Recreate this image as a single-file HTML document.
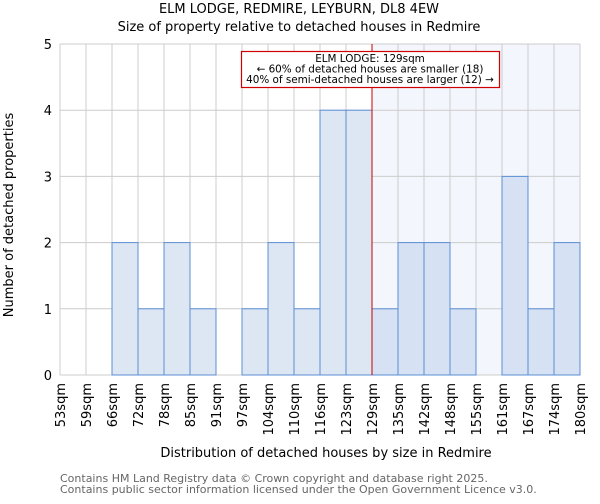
<!DOCTYPE html>
<html><head><meta charset="utf-8"><style>
body{margin:0;background:#fff;font-family:"DejaVu Sans","Liberation Sans",sans-serif}
svg text{font-family:"DejaVu Sans","Liberation Sans",sans-serif}
</style></head><body>
<svg id="chart" width="600" height="500" xmlns="http://www.w3.org/2000/svg">
<text x="299" y="13" text-anchor="middle" font-size="13">ELM LODGE, REDMIRE, LEYBURN, DL8 4EW</text>
<text x="299" y="31" text-anchor="middle" font-size="13">Size of property relative to detached houses in Redmire</text>
<g id="plot"></g>
<text x="326" y="457" text-anchor="middle" font-size="13">Distribution of detached houses by size in Redmire</text>
<text transform="translate(13,215) rotate(-90)" text-anchor="middle" font-size="13">Number of detached properties</text>
<text x="60" y="482" font-size="11" fill="#666">Contains HM Land Registry data © Crown copyright and database right 2025.</text>
<text x="60" y="493" font-size="11" fill="#666">Contains public sector information licensed under the Open Government Licence v3.0.</text>
</svg>
<script>
const categories=["53sqm","59sqm","66sqm","72sqm","78sqm","85sqm","91sqm","97sqm","104sqm","110sqm","116sqm","123sqm","129sqm","135sqm","142sqm","148sqm","155sqm","161sqm","167sqm","174sqm","180sqm"];
const counts=[0,0,2,1,2,1,0,1,2,1,4,4,1,2,2,1,0,3,1,2];
const yTicks=[0,1,2,3,4,5];
const markerIndex=12;
const NS="http://www.w3.org/2000/svg";
const L=60,R=580,T=44,B=375,yMax=5;
const bw=(R-L)/counts.length;
const x=i=>L+i*bw;
const y=v=>B-(B-T)*v/yMax;
const g=document.getElementById('plot');
function mk(t,a){const e=document.createElementNS(NS,t);for(const k in a)e.setAttribute(k,a[k]);g.appendChild(e);return e;}
const sh=mk('rect',{x:x(markerIndex),y:T,width:R-x(markerIndex),height:B-T,fill:'#f4f6fd'});


for(let i=0;i<=counts.length;i++){const l=mk('line',{x1:x(i),x2:x(i),y1:T,y2:B,stroke:'#ccc','stroke-width':1});

}
yTicks.forEach(v=>{const l=mk('line',{x1:L,x2:R,y1:y(v),y2:y(v),stroke:'#ccc','stroke-width':1});


const t=mk('text',{x:L-8,y:y(v)+5,'text-anchor':'end','font-size':13});t.textContent=v;

});
counts.forEach((c,i)=>{if(c<=0)return;const r=mk('rect',{x:x(i),y:y(c),width:bw,height:B-y(c),fill:i>=markerIndex?'#d6e1f3':'#dde6f3',stroke:'#5b8fd6','stroke-width':1});

});
categories.forEach((c,i)=>{const t=mk('text',{transform:`translate(${x(i)+5},${B+8}) rotate(-90)`,'text-anchor':'end','font-size':13});t.textContent=c;

});
const ml=mk('line',{x1:x(markerIndex),x2:x(markerIndex),y1:T,y2:B,stroke:'#cc0000','stroke-width':1});


const bx=mk('rect',{x:241.5,y:51.5,width:258,height:36,fill:'#fff',style:'stroke:#d00000;stroke-width:1.2'});


["ELM LODGE: 129sqm","← 60% of detached houses are smaller (18)","40% of semi-detached houses are larger (12) →"].forEach((s,k)=>{const t=mk('text',{x:370,y:62+k*10.5,'text-anchor':'middle','font-size':10.4});t.textContent=s;

});
</script>
</body></html>
